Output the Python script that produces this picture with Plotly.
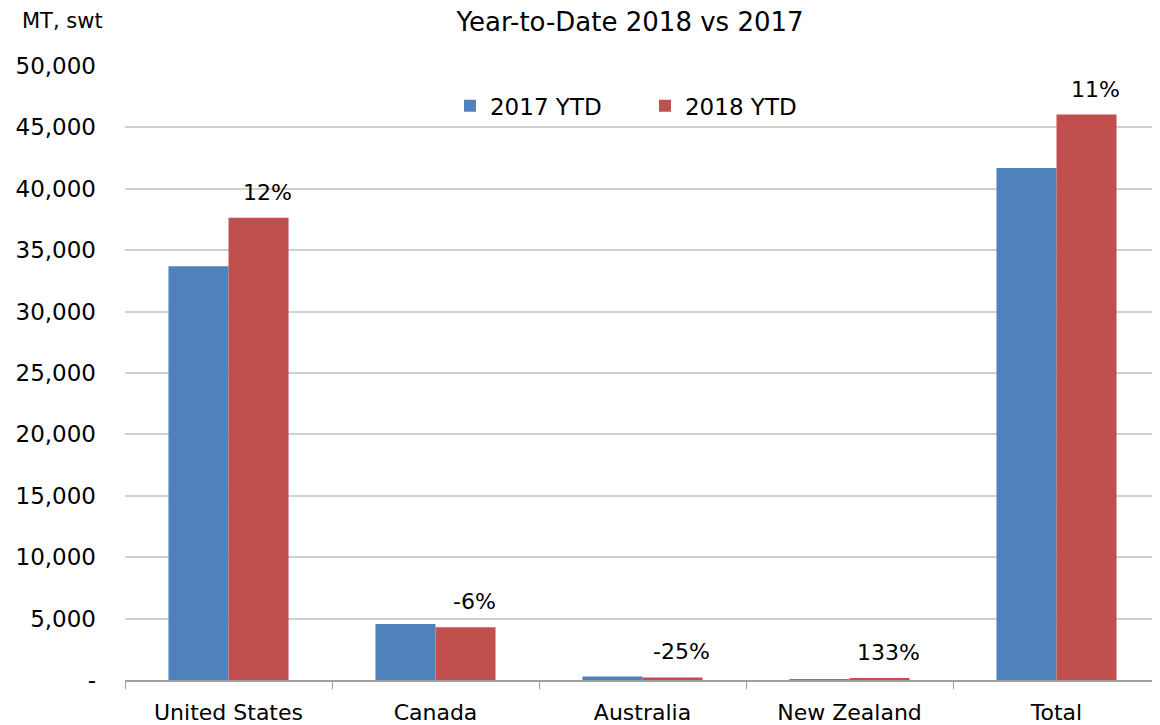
import plotly.graph_objects as go

categories = ["United States", "Canada", "Australia", "New Zealand", "Total"]
ytd_2017 = [33700, 4560, 280, 60, 41700]
ytd_2018 = [37650, 4290, 210, 140, 46050]
change_labels = ["12%", "-6%", "-25%", "133%", "11%"]
y_ticks = [0, 5000, 10000, 15000, 20000, 25000, 30000, 35000, 40000, 45000, 50000]
y_tick_labels = ["-", "5,000", "10,000", "15,000", "20,000", "25,000", "30,000",
                 "35,000", "40,000", "45,000", "50,000"]

FONT = "DejaVu Sans"

fig = go.Figure()
fig.add_trace(go.Bar(name="2017 YTD", x=categories, y=ytd_2017,
                     marker=dict(color="#4F81BD", line=dict(width=0))))
fig.add_trace(go.Bar(name="2018 YTD", x=categories, y=ytd_2018,
                     marker=dict(color="#C0504D", line=dict(width=0))))

annotations = [dict(text="MT, swt", xref="paper", yref="paper", x=-0.1014, y=1.0,
                    xanchor="left", yanchor="middle", yshift=45, showarrow=False,
                    font=dict(size=21, family=FONT))]
for cat, val, lab in zip(categories, ytd_2018, change_labels):
    annotations.append(dict(text=lab, x=cat, y=val, xref="x", yref="y",
                            xanchor="center", yanchor="bottom", xshift=39, yshift=11,
                            showarrow=False, font=dict(size=22, family=FONT)))

fig.update_layout(
    width=1152, height=717,
    margin=dict(l=117, r=0, t=58, b=45, autoexpand=False),
    paper_bgcolor="white", plot_bgcolor="white",
    font=dict(family=FONT, size=22, color="#000000"),
    barmode="group", bargap=0.42, bargroupgap=0,
    title=dict(text="Year-to-Date 2018 vs 2017", xref="paper", x=0.488, xanchor="center",
               y=1 - 14 / 717, yanchor="middle", font=dict(size=26, family=FONT)),
    showlegend=True,
    legend=dict(orientation="h", x=0.314, y=0.935, xanchor="left", yanchor="middle",
                font=dict(size=23, family=FONT), bgcolor="rgba(0,0,0,0)",
                itemwidth=30, entrywidth=150, traceorder="normal"),
    annotations=annotations,
)
fig.update_yaxes(range=[0, 50000], tickvals=y_ticks, ticktext=y_tick_labels,
                 showgrid=True, gridcolor="#d0d0d0", gridwidth=1.5,
                 zeroline=False, showline=False, ticks="", ticklabelstandoff=28,
                 tickfont=dict(size=23, family=FONT), automargin=False)
fig.update_xaxes(showline=True, linecolor="#a0a0a0", linewidth=1.5,
                 ticks="outside", tickson="boundaries", ticklen=7, tickcolor="#a0a0a0",
                 ticklabelstandoff=12,
                 tickfont=dict(size=22, family=FONT), showgrid=False, automargin=False)

fig.write_html("out.html")
